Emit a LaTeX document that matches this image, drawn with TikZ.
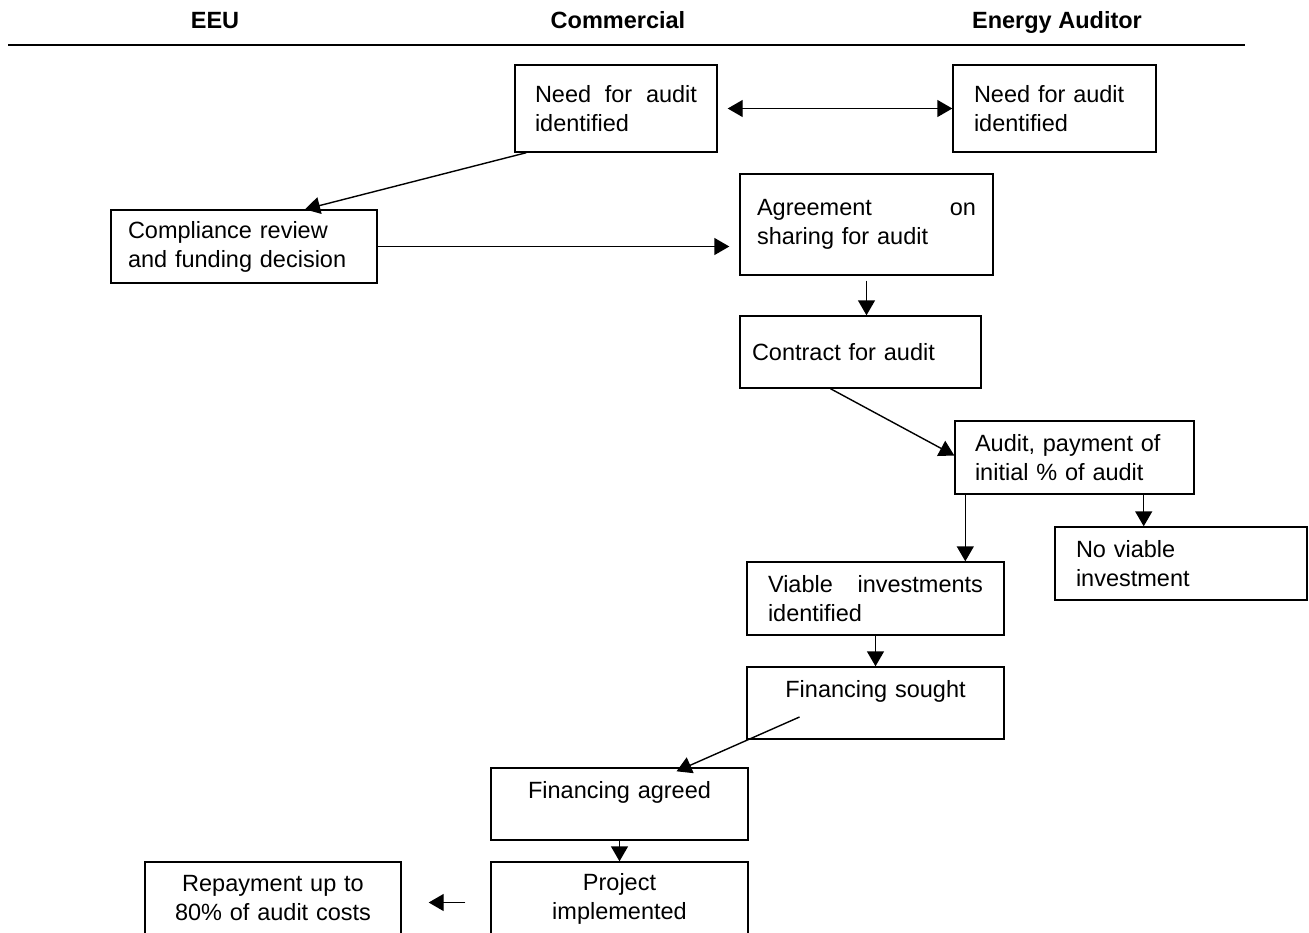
\documentclass[tikz,border=0pt]{standalone}
\usepackage{fontspec}
\setmainfont{Liberation Sans}
\usetikzlibrary{arrows.meta}

\begin{document}
\begin{tikzpicture}[x=1pt,y=-1pt,>={Triangle[length=15pt,width=17pt]},line width=1.4pt,font=\fontsize{23.5pt}{29pt}\selectfont]
\tikzstyle{stage}=[rectangle,draw,black,inner xsep=0pt,inner ysep=0pt,align=left]
\tikzstyle{mid}=[stage,align=center]
\tikzstyle{lane}=[anchor=base,font=\fontsize{23.5pt}{29pt}\selectfont\bfseries]
\useasboundingbox (0,0) rectangle (1309,932);

\node[lane](eeu) at (215,28) {EEU};
\node[lane](com) at (618,28) {Commercial};
\node[lane](aud) at (1057,28) {Energy Auditor};
\draw (8,45) -- (1245,45);

\node[stage,minimum width=202pt,minimum height=87pt,text width=162pt](N) at (616,108.5) {Need\hfill for\hfill audit\\identified};
\node[stage,minimum width=203pt,minimum height=87pt,text width=161pt](M) at (1054.5,108.5) {Need for audit\\identified};
\node[stage,minimum width=266pt,minimum height=73pt,text width=232pt](C) at (244,246.5) {Compliance review\\and funding decision};
\node[stage,minimum width=253pt,minimum height=101pt,text width=219pt](A) at (866.5,224.5) {Agreement\hfill on\\sharing for audit};
\node[stage,minimum width=241pt,minimum height=72pt,text width=217pt](K) at (860.5,352) {Contract for audit};
\node[stage,minimum width=239pt,minimum height=73pt,text width=199pt](U) at (1074.5,457.5) {Audit, payment of\\initial \% of audit};
\node[stage,minimum width=252pt,minimum height=73pt,text width=210pt](X) at (1181,563.5) {No viable\\investment};
\node[stage,minimum width=257pt,minimum height=73pt,text width=215pt](V) at (875.5,598.5) {Viable\hfill investments\\identified};
\node[mid,minimum width=257pt,minimum height=72pt,text width=215pt](S) at (875.5,703) {Financing sought\\~};
\node[mid,minimum width=257pt,minimum height=72pt,text width=215pt](F) at (619.5,804) {Financing agreed\\~};
\node[mid,minimum width=257pt,minimum height=73pt,text width=215pt](P) at (619.5,898.5) {Project\\implemented};
\node[mid,minimum width=256pt,minimum height=73pt,text width=214pt](R) at (273,898.5) {Repayment up to\\80\% of audit costs};

\draw[<->] ([xshift=10pt]N.east) -- (M.west);
\draw[->] ([xshift=12pt]N.south west) -- ([xshift=61pt]C.north);
\draw[->,shorten >=10pt] (C.east) -- (C.east -| A.west);
\draw[->,shorten <=5pt] (A.south) -- (A.south |- K.north);
\draw[->] ([xshift=-30pt]K.south) -- ([yshift=2pt]U.west);
\draw[->] ([xshift=11pt]U.south west) coordinate (u1) -- (u1 |- V.north);
\draw[->] ([xshift=-51pt]U.south east) coordinate (u2) -- (u2 |- X.north);
\draw[->] (V.south) -- (S.north);
\draw[->] ([xshift=-76pt,yshift=-14pt]S.center) -- ([xshift=57pt,yshift=-4pt]F.north);
\draw[->] (F.south) -- (P.north);
\draw[->] ([xshift=-25pt,yshift=-4pt]P.west) -- ([xshift=27pt,yshift=-4pt]R.east);
\end{tikzpicture}
\end{document}
